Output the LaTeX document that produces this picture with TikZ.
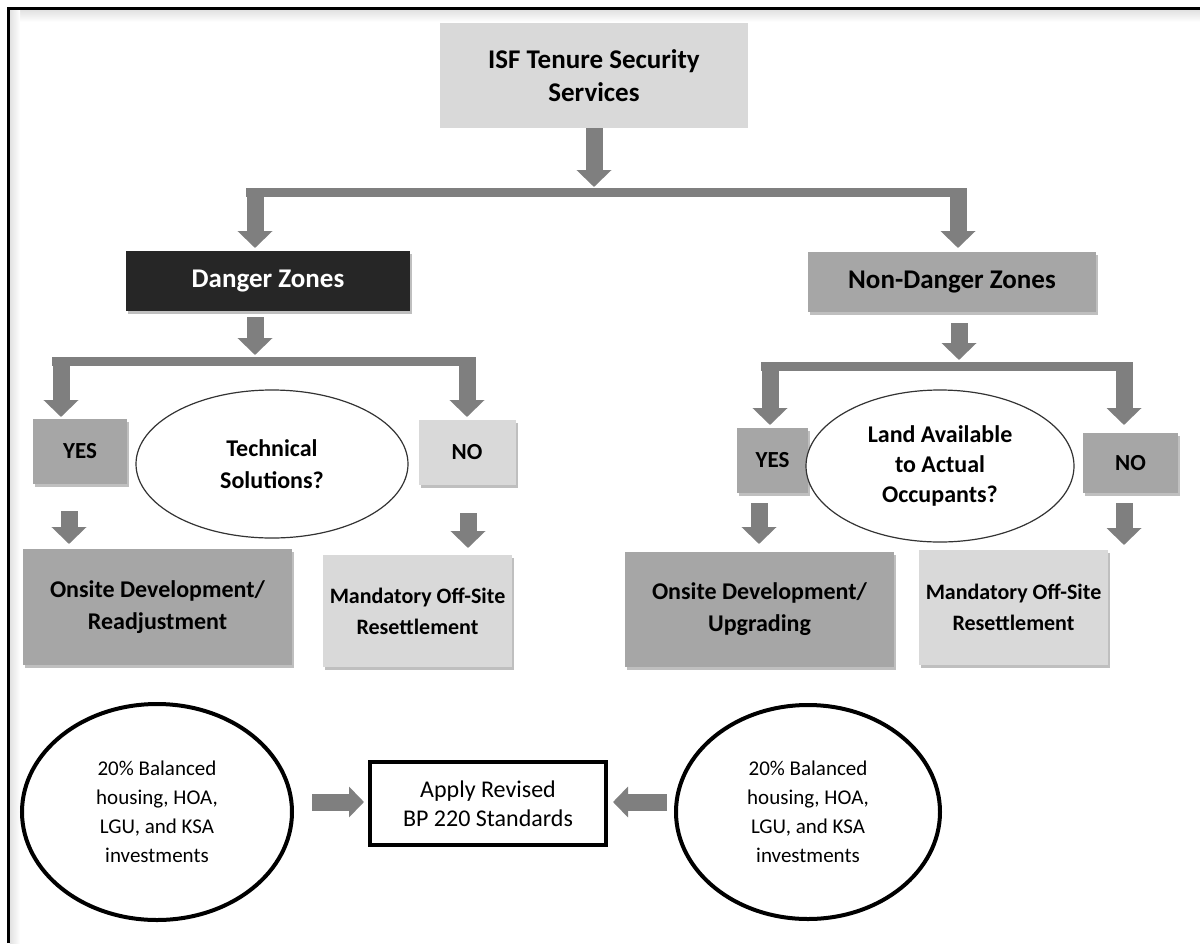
\documentclass[tikz,border=0pt]{standalone}
\usepackage{fontspec}
\setmainfont{Carlito}
\usetikzlibrary{arrows.meta,shapes.geometric,shadows}
\definecolor{arrowgray}{HTML}{7F7F7F}
\definecolor{lightbox}{HTML}{D9D9D9}
\definecolor{midbox}{HTML}{A6A6A6}
\definecolor{darkbox}{HTML}{262626}
\newcommand\titlefont{\fontsize{27}{33}\selectfont\bfseries}
\newcommand\headfont{\fontsize{24}{32}\selectfont\bfseries}
\newcommand\resettlefont{\fontsize{22}{31}\selectfont\bfseries}
\newcommand\answerfont{\fontsize{23}{27}\selectfont\bfseries}
\newcommand\notefont{\fontsize{21}{29}\selectfont}
\newcommand\applyfont{\fontsize{24}{29}\selectfont}
\begin{document}
\begin{tikzpicture}[x=1pt,y=-1pt,
  box/.style={rectangle, inner sep=2pt, align=center, font=\headfont},
  shade box/.style={drop shadow={shadow xshift=2pt, shadow yshift=-3pt, opacity=0.25, fill=black}},
  question/.style={ellipse, draw=black!80, line width=1.2pt, fill=white, inner sep=0pt, align=center, font=\headfont},
  note/.style={ellipse, draw=black, line width=4pt, fill=white, inner sep=0pt, align=center, font=\notefont},
  bar/.style={draw=arrowgray, line width=9pt, line cap=butt},
  blk/.style={draw=arrowgray, line width=17pt, -{Triangle[width=34pt,length=17pt]}},
  sideblk/.style={draw=arrowgray, line width=17pt, -{Triangle[width=30pt,length=15pt]}},
]
\useasboundingbox (0,0) rectangle (1200,943);

% frame along the top and left edges, with a faint shadow inside
\fill[top color=black!12, bottom color=white] (9.5,9.5) rectangle (1200,22);
\fill[left color=black!12, right color=white] (9.5,9.5) rectangle (20,943);
\draw[line width=3pt] (8,943) -- (8,8) -- (1200,8);

% boxes
\node[box, font=\titlefont, fill=lightbox, minimum width=308pt, minimum height=105pt] (isf) at (594,75.5) {ISF Tenure Security\\Services};
\node[box, font=\titlefont, shade box, fill=darkbox, text=white, minimum width=284pt, minimum height=60pt] (danger) at (268,281) {Danger Zones};
\node[box, font=\titlefont, shade box, fill=midbox, minimum width=288pt, minimum height=60pt] (nondanger) at (952,282) {Non-Danger Zones};

\node[box, shade box, fill=midbox, font=\answerfont, minimum width=94pt, minimum height=65pt] (yesL) at (80,451.5) {YES};
\node[box, shade box, fill=lightbox, font=\answerfont, minimum width=97pt, minimum height=65pt] (noL) at (467,452) {NO};
\node[question, minimum width=272pt, minimum height=148pt] (techq) at (272,464) {Technical\\Solutions?};

\node[box, shade box, fill=midbox, font=\answerfont, minimum width=71pt, minimum height=65pt] (yesR) at (772.5,460.5) {YES};
\node[box, shade box, fill=midbox, font=\answerfont, minimum width=95pt, minimum height=60pt] (noR) at (1130.5,463) {NO};
\node[question, minimum width=268pt, minimum height=152pt, font=\fontsize{24}{30}\selectfont\bfseries] (landq) at (940,466) {Land Available\\to Actual\\Occupants?};

\node[box, shade box, fill=midbox, minimum width=269pt, minimum height=116pt] (onL) at (157.5,607) {Onsite Development/\\Readjustment};
\node[box, shade box, fill=lightbox, font=\resettlefont, minimum width=189pt, minimum height=112pt] (manL) at (417.5,611) {Mandatory Off-Site\\Resettlement};
\node[box, shade box, fill=midbox, minimum width=269pt, minimum height=115pt] (onR) at (759.5,609.5) {Onsite Development/\\Upgrading};
\node[box, shade box, fill=lightbox, font=\resettlefont, minimum width=189pt, minimum height=115pt] (manR) at (1013.5,607.5) {Mandatory Off-Site\\Resettlement};

\node[note, minimum width=270pt, minimum height=216pt] (balL) at (157,812) {20\% Balanced\\housing, HOA,\\LGU, and KSA\\investments};
\node[rectangle, draw=black, line width=4pt, fill=white, align=center, font=\applyfont, minimum width=236pt, minimum height=83pt] (apply) at (488,803.5) {Apply Revised\\BP 220 Standards};
\node[note, minimum width=264pt, minimum height=214pt] (balR) at (808,812) {20\% Balanced\\housing, HOA,\\LGU, and KSA\\investments};

% branching bars
\coordinate (b1L) at (246,192);
\coordinate (b1R) at (967,192);
\coordinate (b2L) at (52,361);
\coordinate (b2R) at (476,361);
\coordinate (b3L) at (761,366);
\coordinate (b3R) at (1133,366);
\draw[bar] (b1L) -- (b1R);
\draw[bar] (b2L) -- (b2R);
\draw[bar] (b3L) -- (b3R);

% arrow start and tip points
\coordinate (t0) at (594,187);
\coordinate (s1) at (255,192);  \coordinate (t1) at (255,248);
\coordinate (s2) at (958,192);  \coordinate (t2) at (958,248);
\coordinate (s3) at (255,317);  \coordinate (t3) at (255,355);
\coordinate (s4) at (61,361);   \coordinate (t4) at (61,417);
\coordinate (s5) at (467,361);  \coordinate (t5) at (467,417);
\coordinate (s6) at (959,323);  \coordinate (t6) at (959,360);
\coordinate (s7) at (770,366);  \coordinate (t7) at (770,425);
\coordinate (s8) at (1124,366); \coordinate (t8) at (1124,425);
\coordinate (s9) at (69,511);   \coordinate (t9) at (69,544);
\coordinate (s10) at (468,513); \coordinate (t10) at (468,548);
\coordinate (s11) at (759,503); \coordinate (t11) at (759,544);
\coordinate (s12) at (1124,503);\coordinate (t12) at (1124,545);
\coordinate (s13) at (312,802); \coordinate (t13) at (364,802);
\coordinate (s14) at (667,802); \coordinate (t14) at (613,802);

% block arrows
\draw[blk] (isf.south) -- (t0);
\draw[blk] (s1) -- (t1);
\draw[blk] (s2) -- (t2);
\draw[blk] (s3) -- (t3);
\draw[blk] (s4) -- (t4);
\draw[blk] (s5) -- (t5);
\draw[blk] (s6) -- (t6);
\draw[blk] (s7) -- (t7);
\draw[blk] (s8) -- (t8);
\draw[blk] (s9) -- (t9);
\draw[blk] (s10) -- (t10);
\draw[blk] (s11) -- (t11);
\draw[blk] (s12) -- (t12);
\draw[sideblk] (s13) -- (t13);
\draw[sideblk] (s14) -- (t14);
\end{tikzpicture}
\end{document}
